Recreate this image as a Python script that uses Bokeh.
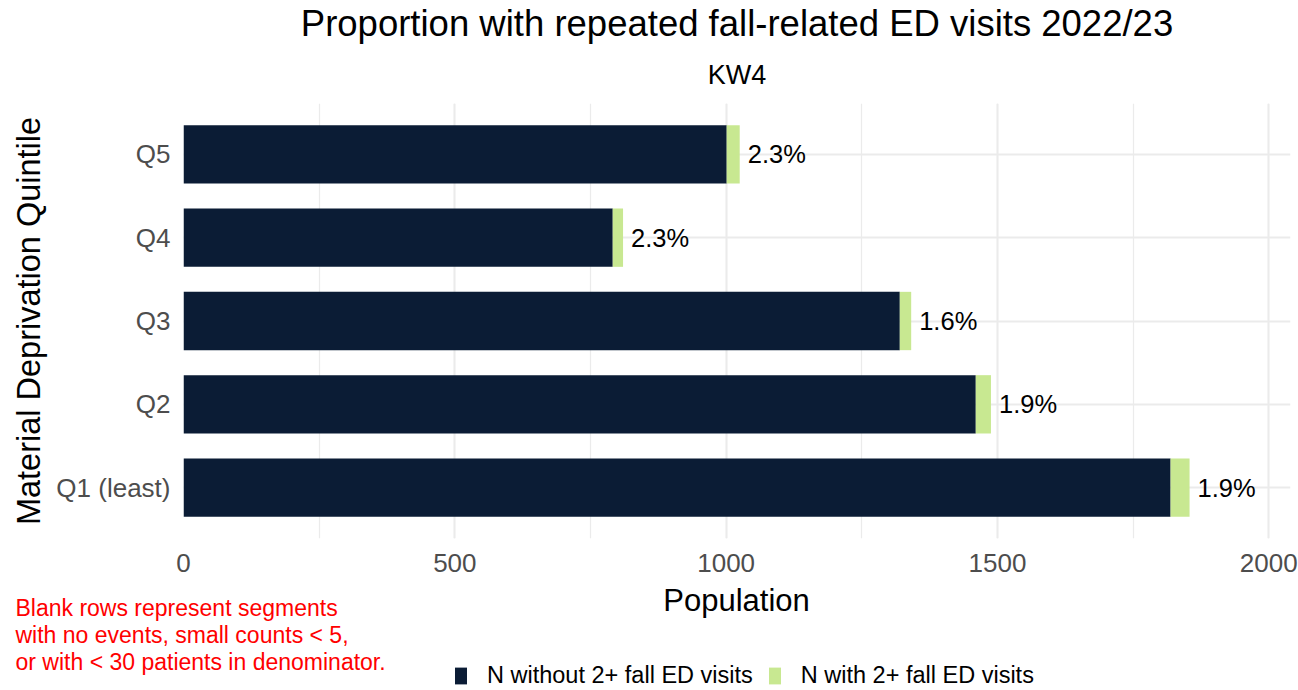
from bokeh.plotting import figure
from bokeh.layouts import column
from bokeh.models import (ColumnDataSource, FactorRange, Range1d, Legend, LegendItem,
                          SingleIntervalTicker, Title)
from bokeh.core.properties import value
from bokeh.embed import file_html
from bokeh.resources import INLINE

categories = ["Q1 (least)", "Q2", "Q3", "Q4", "Q5"]
n_without = [1819, 1460, 1320, 791, 1001]
n_with = [35, 28, 21, 19, 24]

title_text = "Proportion with repeated fall-related ED visits 2022/23"
subtitle_text = "KW4"
x_title = "Population"
y_title = "Material Deprivation Quintile"
note_lines = ["Blank rows represent segments",
              "with no events, small counts < 5,",
              "or with < 30 patients in denominator."]
series_labels = ["N without 2+ fall ED visits", "N with 2+ fall ED visits"]

DARK = "#0B1C35"
GREEN = "#C8E891"
FONT = "Liberation Sans"

totals = [a + b for a, b in zip(n_without, n_with)]
pct = [f"{100 * b / t:.1f}%" for b, t in zip(n_with, totals)]

source = ColumnDataSource(dict(cat=categories, without=n_without, with_=n_with,
                               total=totals, pct=pct))

# ---------------- main chart ----------------
p = figure(width=1298, height=583, output_backend="svg", toolbar_location=None,
           y_range=FactorRange(factors=categories, range_padding=0.11,
                               range_padding_units="absolute"),
           x_range=Range1d(0, 2040),
           min_border_left=183, min_border_right=8, min_border_top=103,
           min_border_bottom=45)
p.frame_align = False
p.outline_line_color = None
p.background_fill_color = "white"
p.border_fill_color = "white"

p.hbar_stack(["without", "with_"], y="cat", height=0.7,
             color=[DARK, GREEN], line_color=None, source=source)

p.text(x="total", y="cat", text="pct", source=source, x_offset=8,
       text_baseline="middle", text_align="left", text_font=value(FONT),
       text_font_size="25.5px", text_color="black")

p.xaxis.ticker = SingleIntervalTicker(interval=500, num_minor_ticks=2)
for ax in (p.xaxis[0], p.yaxis[0]):
    ax.axis_line_color = None
    ax.major_tick_line_color = None
    ax.minor_tick_line_color = None
    ax.major_tick_out = 0
    ax.major_tick_in = 0
    ax.minor_tick_out = 0
    ax.minor_tick_in = 0
    ax.major_label_text_font = FONT
    ax.major_label_text_font_size = "26px"
    ax.major_label_text_color = "#4D4D4D"
    ax.axis_label_text_font = FONT
    ax.axis_label_text_font_style = "normal"
    ax.axis_label_text_color = "black"
p.yaxis.major_label_standoff = 13
p.xaxis.major_label_standoff = 15

p.yaxis.axis_label = y_title
p.yaxis.axis_label_text_font_size = "32.5px"
p.yaxis.axis_label_standoff = 6

p.xgrid.grid_line_color = "#EBEBEB"
p.xgrid.grid_line_width = 2
p.xgrid.minor_grid_line_color = "#EBEBEB"
p.xgrid.minor_grid_line_width = 1.2
p.ygrid.grid_line_color = "#EBEBEB"
p.ygrid.grid_line_width = 2

p.add_layout(Title(text=subtitle_text, align="center", text_font=FONT,
                   text_font_size="27px", text_font_style="normal",
                   text_color="black", standoff=28), "above")
p.add_layout(Title(text=title_text, align="center", text_font=FONT,
                   text_font_size="36.5px", text_font_style="normal",
                   text_color="black", standoff=0), "above")

# ---------------- footer: axis title, note and legend ----------------
f = figure(width=1298, height=107, output_backend="svg", toolbar_location=None,
           x_range=Range1d(0, 1298), y_range=Range1d(0, 107),
           x_axis_type=None, y_axis_type=None, min_border=0)
f.frame_align = False
f.outline_line_color = None
f.xgrid.visible = False
f.ygrid.visible = False

f.text(x=[736], y=[90], text=[x_title], text_align="center", text_baseline="middle",
       text_font=value(FONT), text_font_size="31px", text_color="black")
f.text(x=[15, 15, 15], y=[83, 56, 29], text=note_lines, text_align="left",
       text_baseline="middle", text_font=value(FONT), text_font_size="23px",
       text_color="#FF0000")

# legend proxies (kept outside the visible range)
r_dark = f.hbar(y=[-500], left=[0], right=[1], height=1, fill_color=DARK, line_color=None)
r_green = f.hbar(y=[-500], left=[0], right=[1], height=1, fill_color=GREEN, line_color=None)
legend = Legend(items=[LegendItem(label=series_labels[0], renderers=[r_dark]),
                       LegendItem(label=series_labels[1], renderers=[r_green])],
                orientation="horizontal", location=(453, 1),
                glyph_width=15, glyph_height=21, label_standoff=19, spacing=14,
                padding=0, margin=0, border_line_alpha=0, background_fill_alpha=0,
                label_text_font=FONT, label_text_font_size="23.5px",
                label_text_color="black", label_height=21)
f.add_layout(legend, "center")

layout = column(p, f, spacing=0)
open("out.html", "w").write(file_html(layout, INLINE))
